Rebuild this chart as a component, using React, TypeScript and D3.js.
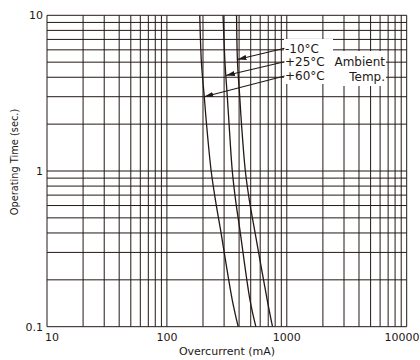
import React from "react";
import * as d3 from "d3";

// Data
const times = [10, 5, 3, 2, 1, 0.65, 0.42, 0.15, 0.1];
const currentMinus10 = [381, 388, 405, 419, 451, 487, 538, 685, 760];
const currentPlus25 = [294, 305, 319, 330, 351, 374, 406, 492, 552];
const currentPlus60 = [188, 194, 205, 214, 234, 254, 280, 350, 393];
const seriesLabels = ["-10°C", "+25°C", "+60°C"];
const arrowTimes = [5.2, 4.1, 3.0];
const xTicks = [10, 100, 1000, 10000];
const yTicks = [0.1, 1, 10];
const yTickLabels = ["0.1", "1", "10"];
const xTickLabels = ["10", "100", "1000", "10000"];

const W = 420;
const H = 360;
const INK = "#231815";
const FONT = "DejaVu Sans, sans-serif";

export default function App() {
  const x = d3.scaleLog().domain([10, 10000]).range([47, 406.7]);
  const y = d3.scaleLog().domain([0.1, 10]).range([326.7, 15.3]);

  const xGrid: number[] = [];
  for (let d = 10; d < 10000; d *= 10) for (let k = 1; k <= 9; k++) xGrid.push(k * d);
  xGrid.push(10000);
  const yGrid: number[] = [];
  for (let d = 0.1; d < 9.99; d *= 10) for (let k = 1; k <= 9; k++) yGrid.push(k * d);
  yGrid.push(10);

  const series = [currentMinus10, currentPlus25, currentPlus60];
  const line = d3
    .line<[number, number]>()
    .x((p) => x(p[0]))
    .y((p) => y(p[1]))
    .curve(d3.curveCatmullRom.alpha(0.5));

  // interpolate current on curve at a given time (log-log)
  const currentAt = (vals: number[], t: number) => {
    for (let i = 0; i < times.length - 1; i++) {
      if (t <= times[i] && t >= times[i + 1]) {
        const f = (Math.log(t) - Math.log(times[i])) / (Math.log(times[i + 1]) - Math.log(times[i]));
        return Math.exp(Math.log(vals[i]) + f * (Math.log(vals[i + 1]) - Math.log(vals[i])));
      }
    }
    return vals[0];
  };

  const labelYs = [48.3, 61.7, 76];
  const labelX = 284.5;

  return (
    <svg
      width={W}
      height={H}
      style={{ position: "absolute", left: 0, top: 0, background: "#fff" }}
      fontFamily={FONT}
    >
      <defs>
        <marker
          id="ah"
          markerUnits="userSpaceOnUse"
          markerWidth={10}
          markerHeight={6}
          refX={9}
          refY={3}
          orient="auto"
        >
          <path d="M0,0.4 L9,3 L0,5.6 Z" fill={INK} />
        </marker>
      </defs>
      <rect x={0} y={0} width={W} height={H} fill="#fff" />
      {/* grid */}
      <g stroke={INK} strokeWidth={1}>
        {xGrid.map((v) => (
          <line key={"x" + v} x1={x(v)} x2={x(v)} y1={y(10)} y2={y(0.1)} />
        ))}
        {yGrid.map((v) => (
          <line key={"y" + v} x1={x(10)} x2={x(10000)} y1={y(v)} y2={y(v)} />
        ))}
      </g>
      {/* curves */}
      <g fill="none" stroke={INK} strokeWidth={1.3}>
        {series.map((vals, i) => (
          <path key={i} d={line(times.map((t, j) => [vals[j], t]))!} />
        ))}
      </g>
      {/* label backgrounds */}
      <rect x={284} y={39} width={49} height={45} fill="#fff" />
      <rect x={333} y={51} width={53} height={35} fill="#fff" />
      {/* arrows */}
      <g stroke={INK} strokeWidth={1.1}>
        {series.map((vals, i) => {
          const tx = x(currentAt(vals, arrowTimes[i]));
          const ty = y(arrowTimes[i]);
          return (
            <line key={i} x1={labelX} y1={labelYs[i]} x2={tx} y2={ty} markerEnd="url(#ah)" />
          );
        })}
      </g>
      <g fill={INK} fontSize={12}>
        {seriesLabels.map((s, i) => (
          <text key={s} x={285} y={labelYs[i]} dy="0.36em">
            {s}
          </text>
        ))}
        <text x={385} y={65.5} textAnchor="end">Ambient</text>
        <text x={385} y={80.5} textAnchor="end">Temp.</text>
      </g>
      {/* tick labels */}
      <g fill={INK} fontSize={11}>
        {yTicks.map((v, i) => (
          <text key={v} x={43} y={y(v)} dy="0.36em" textAnchor="end">
            {yTickLabels[i]}
          </text>
        ))}
        {xTicks.map((v, i) => (
          <text
            key={v}
            x={i === 0 ? 45 : i === xTicks.length - 1 ? 419.5 : x(v)}
            y={341}
            textAnchor={i === 0 ? "start" : i === xTicks.length - 1 ? "end" : "middle"}
          >
            {xTickLabels[i]}
          </text>
        ))}
        <text x={227} y={354.5} textAnchor="middle">Overcurrent (mA)</text>
        <text
          transform={`translate(18,162) rotate(-90)`}
          textAnchor="middle"
          fontSize={9.8}
        >
          Operating Time (sec.)
        </text>
      </g>
    </svg>
  );
}
